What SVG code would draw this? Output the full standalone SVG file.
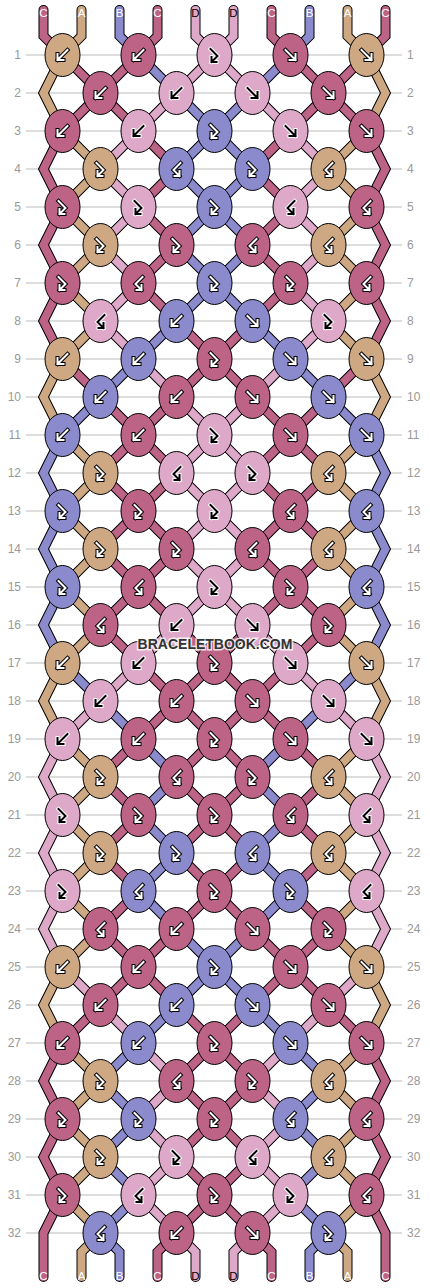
<svg xmlns="http://www.w3.org/2000/svg" width="430" height="1288" viewBox="0 0 430 1288">
<style>
.A{fill:#CDA882}.B{fill:#8A8ACC}.C{fill:#BC6386}.D{fill:#DEA9C9}
.sA{stroke:#CDA882}.sB{stroke:#8A8ACC}.sC{stroke:#BC6386}.sD{stroke:#DEA9C9}
.num{font-family:"Liberation Sans",Arial,sans-serif;font-size:12px;fill:#999}
.lbl{font-family:"Liberation Sans",Arial,sans-serif;font-size:11.5px;text-anchor:middle}
.w{fill:#fff}.k{fill:#000}
</style>
<defs>
<polyline id="t0" points="43.5,10 43.5,36 62.5,55 100.5,93 138.5,131 176.5,169 138.5,207 176.5,245 138.5,283 176.5,321 214.5,359 176.5,397 138.5,435 100.5,473 138.5,511 100.5,549 138.5,587 100.5,625 138.5,663 176.5,701 214.5,739 176.5,777 214.5,815 176.5,853 214.5,891 176.5,929 138.5,967 100.5,1005 62.5,1043 43.5,1081 62.5,1119 43.5,1157 62.5,1195 43.5,1233 43.5,1277"/>
<polyline id="t1" points="81.5,10 81.5,36 62.5,55 43.5,93 62.5,131 100.5,169 62.5,207 100.5,245 62.5,283 100.5,321 62.5,359 43.5,397 62.5,435 100.5,473 62.5,511 100.5,549 62.5,587 100.5,625 62.5,663 43.5,701 62.5,739 100.5,777 62.5,815 100.5,853 62.5,891 100.5,929 62.5,967 43.5,1005 62.5,1043 100.5,1081 62.5,1119 100.5,1157 62.5,1195 100.5,1233 81.5,1252 81.5,1277"/>
<polyline id="t2" points="119.5,10 119.5,36 138.5,55 176.5,93 214.5,131 176.5,169 214.5,207 176.5,245 214.5,283 176.5,321 138.5,359 100.5,397 62.5,435 43.5,473 62.5,511 43.5,549 62.5,587 43.5,625 62.5,663 100.5,701 138.5,739 176.5,777 138.5,815 176.5,853 138.5,891 176.5,929 214.5,967 176.5,1005 138.5,1043 100.5,1081 138.5,1119 100.5,1157 138.5,1195 100.5,1233 119.5,1252 119.5,1277"/>
<polyline id="t3" points="157.5,10 157.5,36 138.5,55 100.5,93 62.5,131 43.5,169 62.5,207 43.5,245 62.5,283 43.5,321 62.5,359 100.5,397 138.5,435 176.5,473 138.5,511 176.5,549 138.5,587 176.5,625 214.5,663 176.5,701 138.5,739 100.5,777 138.5,815 100.5,853 138.5,891 100.5,929 138.5,967 176.5,1005 214.5,1043 176.5,1081 214.5,1119 176.5,1157 214.5,1195 176.5,1233 157.5,1252 157.5,1277"/>
<polyline id="t4" points="195.5,10 195.5,36 214.5,55 176.5,93 138.5,131 100.5,169 138.5,207 100.5,245 138.5,283 100.5,321 138.5,359 176.5,397 214.5,435 176.5,473 214.5,511 176.5,549 214.5,587 176.5,625 138.5,663 100.5,701 62.5,739 43.5,777 62.5,815 43.5,853 62.5,891 43.5,929 62.5,967 100.5,1005 138.5,1043 176.5,1081 138.5,1119 176.5,1157 138.5,1195 176.5,1233 195.5,1252 195.5,1277"/>
<ellipse id="e" rx="17.5" ry="21.5" stroke="#000" stroke-width="1"/>
<path id="pf" d="M-5,-5L5,5M5,-1L5,5L-1,5" fill="none" stroke-linecap="square"/>
<path id="pb" d="M5,-5L-5,5M-5,-1L-5,5L1,5" fill="none" stroke-linecap="square"/>
<path id="pfb" d="M-4,-6L3,1L-3,7M-3,2L-3,7L2,7" fill="none" stroke-linecap="square"/>
<path id="pbf" d="M4,-6L-3,1L3,7M3,2L3,7L-2,7" fill="none" stroke-linecap="square"/>
<g id="f"><use href="#pf" stroke="#000" stroke-width="4"/><use href="#pf" stroke="#fff" stroke-width="2"/></g>
<g id="b"><use href="#pb" stroke="#000" stroke-width="4"/><use href="#pb" stroke="#fff" stroke-width="2"/></g>
<g id="fb"><use href="#pfb" stroke="#000" stroke-width="4"/><use href="#pfb" stroke="#fff" stroke-width="2"/></g>
<g id="bf"><use href="#pbf" stroke="#000" stroke-width="4"/><use href="#pbf" stroke="#fff" stroke-width="2"/></g>
<g id="fk"><use href="#pf" stroke="#fff" stroke-width="4"/><use href="#pf" stroke="#000" stroke-width="2"/></g>
<g id="bk"><use href="#pb" stroke="#fff" stroke-width="4"/><use href="#pb" stroke="#000" stroke-width="2"/></g>
<g id="fbk"><use href="#pfb" stroke="#fff" stroke-width="4"/><use href="#pfb" stroke="#000" stroke-width="2"/></g>
<g id="bfk"><use href="#pbf" stroke="#fff" stroke-width="4"/><use href="#pbf" stroke="#000" stroke-width="2"/></g>
</defs>
<rect width="430" height="1288" fill="#fff"/>
<g id="rows" stroke="#bbb" stroke-width="1">
<path d="M26,55H402M26,93H402M26,131H402M26,169H402M26,207H402M26,245H402M26,283H402M26,321H402M26,359H402M26,397H402M26,435H402M26,473H402M26,511H402M26,549H402M26,587H402M26,625H402M26,663H402M26,701H402M26,739H402M26,777H402M26,815H402M26,853H402M26,891H402M26,929H402M26,967H402M26,1005H402M26,1043H402M26,1081H402M26,1119H402M26,1157H402M26,1195H402M26,1233H402"/>
</g>
<g id="rownumbers" class="num">
<g text-anchor="end">
<text x="21" y="59">1</text><text x="21" y="97">2</text><text x="21" y="135">3</text><text x="21" y="173">4</text><text x="21" y="211">5</text><text x="21" y="249">6</text><text x="21" y="287">7</text><text x="21" y="325">8</text><text x="21" y="363">9</text><text x="21" y="401">10</text><text x="21" y="439">11</text><text x="21" y="477">12</text><text x="21" y="515">13</text><text x="21" y="553">14</text><text x="21" y="591">15</text><text x="21" y="629">16</text><text x="21" y="667">17</text><text x="21" y="705">18</text><text x="21" y="743">19</text><text x="21" y="781">20</text><text x="21" y="819">21</text><text x="21" y="857">22</text><text x="21" y="895">23</text><text x="21" y="933">24</text><text x="21" y="971">25</text><text x="21" y="1009">26</text><text x="21" y="1047">27</text><text x="21" y="1085">28</text><text x="21" y="1123">29</text><text x="21" y="1161">30</text><text x="21" y="1199">31</text><text x="21" y="1237">32</text>
</g>
<g text-anchor="start">
<text x="407" y="59">1</text><text x="407" y="97">2</text><text x="407" y="135">3</text><text x="407" y="173">4</text><text x="407" y="211">5</text><text x="407" y="249">6</text><text x="407" y="287">7</text><text x="407" y="325">8</text><text x="407" y="363">9</text><text x="407" y="401">10</text><text x="407" y="439">11</text><text x="407" y="477">12</text><text x="407" y="515">13</text><text x="407" y="553">14</text><text x="407" y="591">15</text><text x="407" y="629">16</text><text x="407" y="667">17</text><text x="407" y="705">18</text><text x="407" y="743">19</text><text x="407" y="781">20</text><text x="407" y="819">21</text><text x="407" y="857">22</text><text x="407" y="895">23</text><text x="407" y="933">24</text><text x="407" y="971">25</text><text x="407" y="1009">26</text><text x="407" y="1047">27</text><text x="407" y="1085">28</text><text x="407" y="1123">29</text><text x="407" y="1161">30</text><text x="407" y="1199">31</text><text x="407" y="1237">32</text>
</g>
</g>
<g id="connectors" fill="none" stroke-linejoin="miter" stroke-miterlimit="2" stroke-linecap="round">
<g id="outlines" stroke="#000" stroke-width="10">
<use href="#t0"/><use href="#t1"/><use href="#t2"/><use href="#t3"/><use href="#t4"/>
<use href="#t0" transform="matrix(-1 0 0 1 429 0)"/><use href="#t1" transform="matrix(-1 0 0 1 429 0)"/><use href="#t2" transform="matrix(-1 0 0 1 429 0)"/><use href="#t3" transform="matrix(-1 0 0 1 429 0)"/><use href="#t4" transform="matrix(-1 0 0 1 429 0)"/>
</g>
<g id="threads" stroke-width="8">
<use href="#t0" class="sC"/><use href="#t1" class="sA"/><use href="#t2" class="sB"/><use href="#t3" class="sC"/><use href="#t4" class="sD"/>
<use href="#t0" class="sC" transform="matrix(-1 0 0 1 429 0)"/><use href="#t1" class="sA" transform="matrix(-1 0 0 1 429 0)"/><use href="#t2" class="sB" transform="matrix(-1 0 0 1 429 0)"/><use href="#t3" class="sC" transform="matrix(-1 0 0 1 429 0)"/><use href="#t4" class="sD" transform="matrix(-1 0 0 1 429 0)"/>
</g>
</g>
<g id="stringlabels" class="lbl">
<text x="43.5" y="16.5" class="w">C</text><text x="81.5" y="16.5" class="w">A</text><text x="119.5" y="16.5" class="w">B</text><text x="157.5" y="16.5" class="w">C</text><text x="195.5" y="16.5" class="k">D</text><text x="233.5" y="16.5" class="k">D</text><text x="271.5" y="16.5" class="w">C</text><text x="309.5" y="16.5" class="w">B</text><text x="347.5" y="16.5" class="w">A</text><text x="385.5" y="16.5" class="w">C</text>
<text x="43.5" y="1280" class="w">C</text><text x="81.5" y="1280" class="w">A</text><text x="119.5" y="1280" class="w">B</text><text x="157.5" y="1280" class="w">C</text><text x="195.5" y="1280" class="k">D</text><text x="233.5" y="1280" class="k">D</text><text x="271.5" y="1280" class="w">C</text><text x="309.5" y="1280" class="w">B</text><text x="347.5" y="1280" class="w">A</text><text x="385.5" y="1280" class="w">C</text>
</g>
<g id="knots">
<g id="k1-1" transform="translate(62.5,55)"><use href="#e" class="A"/><use href="#b"/></g>
<g id="k1-2" transform="translate(138.5,55)"><use href="#e" class="C"/><use href="#b"/></g>
<g id="k1-3" transform="translate(214.5,55)"><use href="#e" class="D"/><use href="#fbk"/></g>
<g id="k1-4" transform="translate(290.5,55)"><use href="#e" class="C"/><use href="#f"/></g>
<g id="k1-5" transform="translate(366.5,55)"><use href="#e" class="A"/><use href="#f"/></g>
<g id="k2-1" transform="translate(100.5,93)"><use href="#e" class="C"/><use href="#b"/></g>
<g id="k2-2" transform="translate(176.5,93)"><use href="#e" class="D"/><use href="#bk"/></g>
<g id="k2-3" transform="translate(252.5,93)"><use href="#e" class="D"/><use href="#fk"/></g>
<g id="k2-4" transform="translate(328.5,93)"><use href="#e" class="C"/><use href="#f"/></g>
<g id="k3-1" transform="translate(62.5,131)"><use href="#e" class="C"/><use href="#b"/></g>
<g id="k3-2" transform="translate(138.5,131)"><use href="#e" class="D"/><use href="#bk"/></g>
<g id="k3-3" transform="translate(214.5,131)"><use href="#e" class="B"/><use href="#fb"/></g>
<g id="k3-4" transform="translate(290.5,131)"><use href="#e" class="D"/><use href="#fk"/></g>
<g id="k3-5" transform="translate(366.5,131)"><use href="#e" class="C"/><use href="#f"/></g>
<g id="k4-1" transform="translate(100.5,169)"><use href="#e" class="A"/><use href="#fb"/></g>
<g id="k4-2" transform="translate(176.5,169)"><use href="#e" class="B"/><use href="#bf"/></g>
<g id="k4-3" transform="translate(252.5,169)"><use href="#e" class="B"/><use href="#fb"/></g>
<g id="k4-4" transform="translate(328.5,169)"><use href="#e" class="A"/><use href="#bf"/></g>
<g id="k5-1" transform="translate(62.5,207)"><use href="#e" class="C"/><use href="#fb"/></g>
<g id="k5-2" transform="translate(138.5,207)"><use href="#e" class="D"/><use href="#fbk"/></g>
<g id="k5-3" transform="translate(214.5,207)"><use href="#e" class="B"/><use href="#fb"/></g>
<g id="k5-4" transform="translate(290.5,207)"><use href="#e" class="D"/><use href="#bfk"/></g>
<g id="k5-5" transform="translate(366.5,207)"><use href="#e" class="C"/><use href="#bf"/></g>
<g id="k6-1" transform="translate(100.5,245)"><use href="#e" class="A"/><use href="#fb"/></g>
<g id="k6-2" transform="translate(176.5,245)"><use href="#e" class="C"/><use href="#fb"/></g>
<g id="k6-3" transform="translate(252.5,245)"><use href="#e" class="C"/><use href="#bf"/></g>
<g id="k6-4" transform="translate(328.5,245)"><use href="#e" class="A"/><use href="#bf"/></g>
<g id="k7-1" transform="translate(62.5,283)"><use href="#e" class="C"/><use href="#fb"/></g>
<g id="k7-2" transform="translate(138.5,283)"><use href="#e" class="C"/><use href="#bf"/></g>
<g id="k7-3" transform="translate(214.5,283)"><use href="#e" class="B"/><use href="#fb"/></g>
<g id="k7-4" transform="translate(290.5,283)"><use href="#e" class="C"/><use href="#fb"/></g>
<g id="k7-5" transform="translate(366.5,283)"><use href="#e" class="C"/><use href="#bf"/></g>
<g id="k8-1" transform="translate(100.5,321)"><use href="#e" class="D"/><use href="#bfk"/></g>
<g id="k8-2" transform="translate(176.5,321)"><use href="#e" class="B"/><use href="#b"/></g>
<g id="k8-3" transform="translate(252.5,321)"><use href="#e" class="B"/><use href="#f"/></g>
<g id="k8-4" transform="translate(328.5,321)"><use href="#e" class="D"/><use href="#fbk"/></g>
<g id="k9-1" transform="translate(62.5,359)"><use href="#e" class="A"/><use href="#b"/></g>
<g id="k9-2" transform="translate(138.5,359)"><use href="#e" class="B"/><use href="#b"/></g>
<g id="k9-3" transform="translate(214.5,359)"><use href="#e" class="C"/><use href="#fb"/></g>
<g id="k9-4" transform="translate(290.5,359)"><use href="#e" class="B"/><use href="#f"/></g>
<g id="k9-5" transform="translate(366.5,359)"><use href="#e" class="A"/><use href="#f"/></g>
<g id="k10-1" transform="translate(100.5,397)"><use href="#e" class="B"/><use href="#b"/></g>
<g id="k10-2" transform="translate(176.5,397)"><use href="#e" class="C"/><use href="#b"/></g>
<g id="k10-3" transform="translate(252.5,397)"><use href="#e" class="C"/><use href="#f"/></g>
<g id="k10-4" transform="translate(328.5,397)"><use href="#e" class="B"/><use href="#f"/></g>
<g id="k11-1" transform="translate(62.5,435)"><use href="#e" class="B"/><use href="#b"/></g>
<g id="k11-2" transform="translate(138.5,435)"><use href="#e" class="C"/><use href="#b"/></g>
<g id="k11-3" transform="translate(214.5,435)"><use href="#e" class="D"/><use href="#fbk"/></g>
<g id="k11-4" transform="translate(290.5,435)"><use href="#e" class="C"/><use href="#f"/></g>
<g id="k11-5" transform="translate(366.5,435)"><use href="#e" class="B"/><use href="#f"/></g>
<g id="k12-1" transform="translate(100.5,473)"><use href="#e" class="A"/><use href="#fb"/></g>
<g id="k12-2" transform="translate(176.5,473)"><use href="#e" class="D"/><use href="#bfk"/></g>
<g id="k12-3" transform="translate(252.5,473)"><use href="#e" class="D"/><use href="#fbk"/></g>
<g id="k12-4" transform="translate(328.5,473)"><use href="#e" class="A"/><use href="#bf"/></g>
<g id="k13-1" transform="translate(62.5,511)"><use href="#e" class="B"/><use href="#fb"/></g>
<g id="k13-2" transform="translate(138.5,511)"><use href="#e" class="C"/><use href="#fb"/></g>
<g id="k13-3" transform="translate(214.5,511)"><use href="#e" class="D"/><use href="#fbk"/></g>
<g id="k13-4" transform="translate(290.5,511)"><use href="#e" class="C"/><use href="#bf"/></g>
<g id="k13-5" transform="translate(366.5,511)"><use href="#e" class="B"/><use href="#bf"/></g>
<g id="k14-1" transform="translate(100.5,549)"><use href="#e" class="A"/><use href="#fb"/></g>
<g id="k14-2" transform="translate(176.5,549)"><use href="#e" class="C"/><use href="#fb"/></g>
<g id="k14-3" transform="translate(252.5,549)"><use href="#e" class="C"/><use href="#bf"/></g>
<g id="k14-4" transform="translate(328.5,549)"><use href="#e" class="A"/><use href="#bf"/></g>
<g id="k15-1" transform="translate(62.5,587)"><use href="#e" class="B"/><use href="#fb"/></g>
<g id="k15-2" transform="translate(138.5,587)"><use href="#e" class="C"/><use href="#bf"/></g>
<g id="k15-3" transform="translate(214.5,587)"><use href="#e" class="D"/><use href="#fbk"/></g>
<g id="k15-4" transform="translate(290.5,587)"><use href="#e" class="C"/><use href="#fb"/></g>
<g id="k15-5" transform="translate(366.5,587)"><use href="#e" class="B"/><use href="#bf"/></g>
<g id="k16-1" transform="translate(100.5,625)"><use href="#e" class="C"/><use href="#bf"/></g>
<g id="k16-2" transform="translate(176.5,625)"><use href="#e" class="D"/><use href="#bk"/></g>
<g id="k16-3" transform="translate(252.5,625)"><use href="#e" class="D"/><use href="#fk"/></g>
<g id="k16-4" transform="translate(328.5,625)"><use href="#e" class="C"/><use href="#fb"/></g>
<g id="k17-1" transform="translate(62.5,663)"><use href="#e" class="A"/><use href="#b"/></g>
<g id="k17-2" transform="translate(138.5,663)"><use href="#e" class="D"/><use href="#bk"/></g>
<g id="k17-3" transform="translate(214.5,663)"><use href="#e" class="C"/><use href="#fb"/></g>
<g id="k17-4" transform="translate(290.5,663)"><use href="#e" class="D"/><use href="#fk"/></g>
<g id="k17-5" transform="translate(366.5,663)"><use href="#e" class="A"/><use href="#f"/></g>
<g id="k18-1" transform="translate(100.5,701)"><use href="#e" class="D"/><use href="#bk"/></g>
<g id="k18-2" transform="translate(176.5,701)"><use href="#e" class="C"/><use href="#b"/></g>
<g id="k18-3" transform="translate(252.5,701)"><use href="#e" class="C"/><use href="#f"/></g>
<g id="k18-4" transform="translate(328.5,701)"><use href="#e" class="D"/><use href="#fk"/></g>
<g id="k19-1" transform="translate(62.5,739)"><use href="#e" class="D"/><use href="#bk"/></g>
<g id="k19-2" transform="translate(138.5,739)"><use href="#e" class="C"/><use href="#b"/></g>
<g id="k19-3" transform="translate(214.5,739)"><use href="#e" class="C"/><use href="#fb"/></g>
<g id="k19-4" transform="translate(290.5,739)"><use href="#e" class="C"/><use href="#f"/></g>
<g id="k19-5" transform="translate(366.5,739)"><use href="#e" class="D"/><use href="#fk"/></g>
<g id="k20-1" transform="translate(100.5,777)"><use href="#e" class="A"/><use href="#fb"/></g>
<g id="k20-2" transform="translate(176.5,777)"><use href="#e" class="C"/><use href="#bf"/></g>
<g id="k20-3" transform="translate(252.5,777)"><use href="#e" class="C"/><use href="#fb"/></g>
<g id="k20-4" transform="translate(328.5,777)"><use href="#e" class="A"/><use href="#bf"/></g>
<g id="k21-1" transform="translate(62.5,815)"><use href="#e" class="D"/><use href="#fbk"/></g>
<g id="k21-2" transform="translate(138.5,815)"><use href="#e" class="C"/><use href="#fb"/></g>
<g id="k21-3" transform="translate(214.5,815)"><use href="#e" class="C"/><use href="#fb"/></g>
<g id="k21-4" transform="translate(290.5,815)"><use href="#e" class="C"/><use href="#bf"/></g>
<g id="k21-5" transform="translate(366.5,815)"><use href="#e" class="D"/><use href="#bfk"/></g>
<g id="k22-1" transform="translate(100.5,853)"><use href="#e" class="A"/><use href="#fb"/></g>
<g id="k22-2" transform="translate(176.5,853)"><use href="#e" class="B"/><use href="#fb"/></g>
<g id="k22-3" transform="translate(252.5,853)"><use href="#e" class="B"/><use href="#bf"/></g>
<g id="k22-4" transform="translate(328.5,853)"><use href="#e" class="A"/><use href="#bf"/></g>
<g id="k23-1" transform="translate(62.5,891)"><use href="#e" class="D"/><use href="#fbk"/></g>
<g id="k23-2" transform="translate(138.5,891)"><use href="#e" class="B"/><use href="#bf"/></g>
<g id="k23-3" transform="translate(214.5,891)"><use href="#e" class="C"/><use href="#fb"/></g>
<g id="k23-4" transform="translate(290.5,891)"><use href="#e" class="B"/><use href="#fb"/></g>
<g id="k23-5" transform="translate(366.5,891)"><use href="#e" class="D"/><use href="#bfk"/></g>
<g id="k24-1" transform="translate(100.5,929)"><use href="#e" class="C"/><use href="#bf"/></g>
<g id="k24-2" transform="translate(176.5,929)"><use href="#e" class="C"/><use href="#b"/></g>
<g id="k24-3" transform="translate(252.5,929)"><use href="#e" class="C"/><use href="#f"/></g>
<g id="k24-4" transform="translate(328.5,929)"><use href="#e" class="C"/><use href="#fb"/></g>
<g id="k25-1" transform="translate(62.5,967)"><use href="#e" class="A"/><use href="#b"/></g>
<g id="k25-2" transform="translate(138.5,967)"><use href="#e" class="C"/><use href="#b"/></g>
<g id="k25-3" transform="translate(214.5,967)"><use href="#e" class="B"/><use href="#fb"/></g>
<g id="k25-4" transform="translate(290.5,967)"><use href="#e" class="C"/><use href="#f"/></g>
<g id="k25-5" transform="translate(366.5,967)"><use href="#e" class="A"/><use href="#f"/></g>
<g id="k26-1" transform="translate(100.5,1005)"><use href="#e" class="C"/><use href="#b"/></g>
<g id="k26-2" transform="translate(176.5,1005)"><use href="#e" class="B"/><use href="#b"/></g>
<g id="k26-3" transform="translate(252.5,1005)"><use href="#e" class="B"/><use href="#f"/></g>
<g id="k26-4" transform="translate(328.5,1005)"><use href="#e" class="C"/><use href="#f"/></g>
<g id="k27-1" transform="translate(62.5,1043)"><use href="#e" class="C"/><use href="#b"/></g>
<g id="k27-2" transform="translate(138.5,1043)"><use href="#e" class="B"/><use href="#b"/></g>
<g id="k27-3" transform="translate(214.5,1043)"><use href="#e" class="C"/><use href="#fb"/></g>
<g id="k27-4" transform="translate(290.5,1043)"><use href="#e" class="B"/><use href="#f"/></g>
<g id="k27-5" transform="translate(366.5,1043)"><use href="#e" class="C"/><use href="#f"/></g>
<g id="k28-1" transform="translate(100.5,1081)"><use href="#e" class="A"/><use href="#fb"/></g>
<g id="k28-2" transform="translate(176.5,1081)"><use href="#e" class="C"/><use href="#bf"/></g>
<g id="k28-3" transform="translate(252.5,1081)"><use href="#e" class="C"/><use href="#fb"/></g>
<g id="k28-4" transform="translate(328.5,1081)"><use href="#e" class="A"/><use href="#bf"/></g>
<g id="k29-1" transform="translate(62.5,1119)"><use href="#e" class="C"/><use href="#fb"/></g>
<g id="k29-2" transform="translate(138.5,1119)"><use href="#e" class="B"/><use href="#fb"/></g>
<g id="k29-3" transform="translate(214.5,1119)"><use href="#e" class="C"/><use href="#fb"/></g>
<g id="k29-4" transform="translate(290.5,1119)"><use href="#e" class="B"/><use href="#bf"/></g>
<g id="k29-5" transform="translate(366.5,1119)"><use href="#e" class="C"/><use href="#bf"/></g>
<g id="k30-1" transform="translate(100.5,1157)"><use href="#e" class="A"/><use href="#fb"/></g>
<g id="k30-2" transform="translate(176.5,1157)"><use href="#e" class="D"/><use href="#fbk"/></g>
<g id="k30-3" transform="translate(252.5,1157)"><use href="#e" class="D"/><use href="#bfk"/></g>
<g id="k30-4" transform="translate(328.5,1157)"><use href="#e" class="A"/><use href="#bf"/></g>
<g id="k31-1" transform="translate(62.5,1195)"><use href="#e" class="C"/><use href="#fb"/></g>
<g id="k31-2" transform="translate(138.5,1195)"><use href="#e" class="D"/><use href="#bfk"/></g>
<g id="k31-3" transform="translate(214.5,1195)"><use href="#e" class="C"/><use href="#fb"/></g>
<g id="k31-4" transform="translate(290.5,1195)"><use href="#e" class="D"/><use href="#fbk"/></g>
<g id="k31-5" transform="translate(366.5,1195)"><use href="#e" class="C"/><use href="#bf"/></g>
<g id="k32-1" transform="translate(100.5,1233)"><use href="#e" class="B"/><use href="#bf"/></g>
<g id="k32-2" transform="translate(176.5,1233)"><use href="#e" class="C"/><use href="#b"/></g>
<g id="k32-3" transform="translate(252.5,1233)"><use href="#e" class="C"/><use href="#f"/></g>
<g id="k32-4" transform="translate(328.5,1233)"><use href="#e" class="B"/><use href="#fb"/></g>
</g>
<text id="watermark" x="215" y="649" font-family="'Liberation Sans',Arial,sans-serif" font-weight="bold" font-size="14" fill="#333" stroke="#fff" stroke-opacity="0.8" stroke-width="3" paint-order="stroke" text-anchor="middle">BRACELETBOOK.COM</text>
</svg>
